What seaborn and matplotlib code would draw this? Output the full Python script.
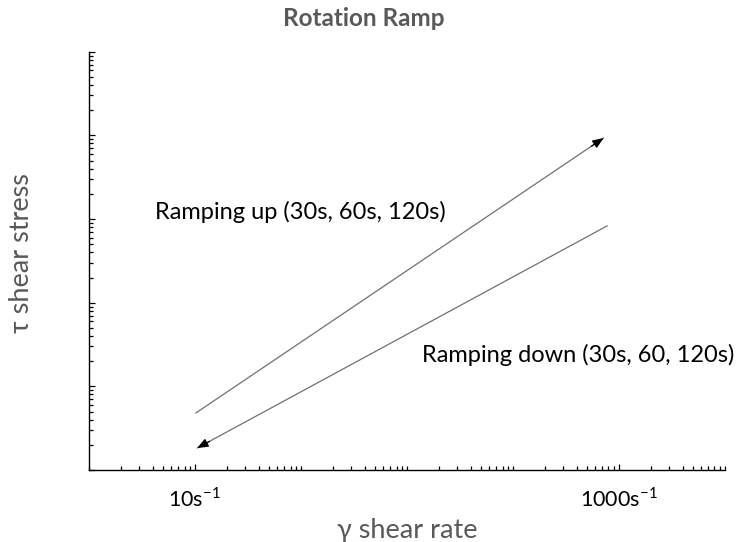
import numpy as np
import pandas as pd
import matplotlib
matplotlib.use("Agg")
import matplotlib.pyplot as plt
from matplotlib.ticker import LogLocator, NullFormatter, FixedLocator, FixedFormatter
import seaborn as sns

# Ramp curves in axis units (log-log), start -> end
ramp_up_x = [10.2, 72000.0]
ramp_up_y = [4.8, 9300.0]
ramp_down_x = [78000.0, 10.5]
ramp_down_y = [830.0, 1.83]

series_names = ["Ramping up (30s, 60s, 120s)", "Ramping down (30s, 60, 120s)"]
x_limits = [1.0, 1e6]
y_limits = [1.0, 1e5]
xtick_pos = [1e1, 1e5]
xtick_labels = ["10s$^{\\mathregular{-1}}$", "1000s$^{\\mathregular{-1}}$"]

sns.set_theme(style="ticks")
plt.rcParams["font.family"] = ["Lato", "DejaVu Sans"]
plt.rcParams["mathtext.fontset"] = "custom"
plt.rcParams["mathtext.rm"] = "Lato"

df = pd.DataFrame({
    "x": ramp_up_x + ramp_down_x,
    "y": ramp_up_y + ramp_down_y,
    "ramp": [series_names[0]] * 2 + [series_names[1]] * 2,
})

fig = plt.figure(figsize=(7.41, 5.42), dpi=100)
ax = fig.add_axes([0.120, 0.1328, 0.858, 0.7718])

sns.lineplot(data=df, x="x", y="y", hue="ramp", palette=["#707070", "#707070"],
             linewidth=0.9, legend=False, sort=False, estimator=None, ax=ax)

ax.set_xscale("log")
ax.set_yscale("log")
ax.set_xlim(*x_limits)
ax.set_ylim(*y_limits)

# Arrowheads at the end of each ramp
for xs, ys in [(ramp_up_x, ramp_up_y), (ramp_down_x, ramp_down_y)]:
    x0, x1 = xs[-2], xs[-1]
    y0, y1 = ys[-2], ys[-1]
    xm = 10 ** (np.log10(x1) - 0.03 * (np.log10(x1) - np.log10(x0)))
    ym = 10 ** (np.log10(y1) - 0.03 * (np.log10(y1) - np.log10(y0)))
    ax.annotate("", xy=(x1, y1), xytext=(xm, ym),
                arrowprops=dict(arrowstyle="-|>,head_length=0.55,head_width=0.22",
                                color="black", lw=0.9, shrinkA=0, shrinkB=0))

# Ticks
ax.xaxis.set_major_locator(FixedLocator(xtick_pos))
ax.xaxis.set_major_formatter(FixedFormatter(xtick_labels))
ax.xaxis.set_minor_locator(LogLocator(base=10, subs=np.arange(1, 10), numticks=20))
ax.xaxis.set_minor_formatter(NullFormatter())
ax.yaxis.set_major_locator(LogLocator(base=10, numticks=10))
ax.yaxis.set_major_formatter(NullFormatter())
ax.yaxis.set_minor_locator(LogLocator(base=10, subs=np.arange(2, 10), numticks=20))
ax.yaxis.set_minor_formatter(NullFormatter())
ax.tick_params(axis="both", which="both", direction="in", color="black", width=0.9)
ax.tick_params(axis="both", which="major", length=4)
ax.tick_params(axis="both", which="minor", length=3)
ax.tick_params(axis="x", which="major", pad=12, labelsize=15.5, labelcolor="black")

sns.despine(ax=ax)
for s in ["left", "bottom"]:
    ax.spines[s].set_color("black")
    ax.spines[s].set_linewidth(1.0)
ax.grid(False)

ax.set_xlabel("γ shear rate", fontsize=19.5, color="#595959", labelpad=5)
ax.set_ylabel("τ shear stress", fontsize=19.5, color="#595959")
ax.yaxis.set_label_coords(-0.086, 0.519)

fig.text(0.491, 0.966, "Rotation Ramp", ha="center", va="center",
         fontsize=17.5, fontweight="bold", color="#595959")

ax.text(155 / 741, 1 - 212 / 542, series_names[0], transform=fig.transFigure,
        ha="left", va="center", fontsize=17, color="black")
ax.text(422 / 741, 1 - 355 / 542, series_names[1], transform=fig.transFigure,
        ha="left", va="center", fontsize=17, color="black")

fig.savefig("out.png", dpi=100)
